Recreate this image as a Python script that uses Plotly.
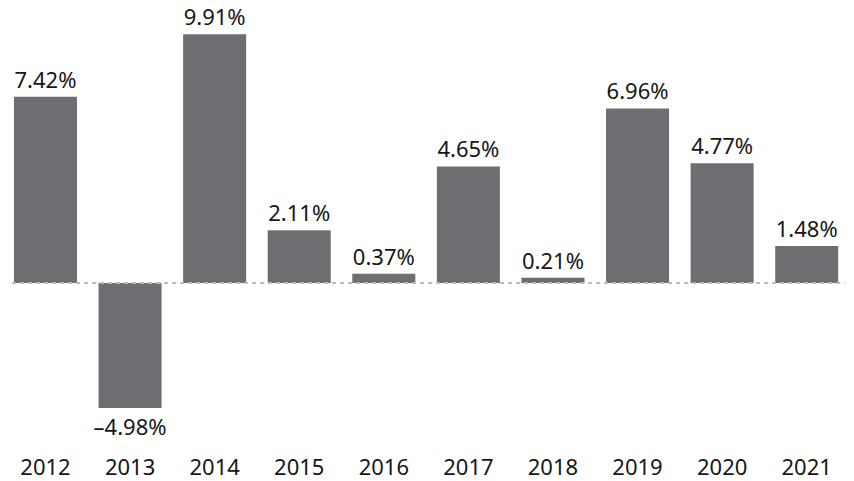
import plotly.graph_objects as go

years = ["2012", "2013", "2014", "2015", "2016", "2017", "2018", "2019", "2020", "2021"]
returns = [7.42, -4.98, 9.91, 2.11, 0.37, 4.65, 0.21, 6.96, 4.77, 1.48]

labels = [("%.2f%%" % v).replace("-", "\u2013") for v in returns]

FONT = "Noto Sans"

fig = go.Figure(go.Bar(
    x=years, y=returns,
    marker=dict(color="#6d6e71", line=dict(width=0)),
    text=labels, textposition="outside", cliponaxis=False,
    constraintext="none",
    textfont=dict(family=FONT, size=22, color="#161616"),
    hoverinfo="skip",
))

fig.add_shape(type="line", xref="paper", yref="y", x0=0.005, x1=0.995, y0=0, y1=0,
              line=dict(color="#bababa", width=2, dash="4px,4px"), layer="above")

fig.update_layout(
    width=846, height=473,
    margin=dict(l=0, r=5, t=0, b=33),
    plot_bgcolor="white", paper_bgcolor="white",
    bargap=0.255, showlegend=False,
    xaxis=dict(showgrid=False, zeroline=False, showline=False, ticks="",
               range=[-0.443, 9.5],
               tickfont=dict(family=FONT, size=22, color="#161616"),
               ticklabelstandoff=4),
    yaxis=dict(visible=False, range=[-6.57, 10.96], zeroline=False, showgrid=False),
)

fig.write_html("out.html")
